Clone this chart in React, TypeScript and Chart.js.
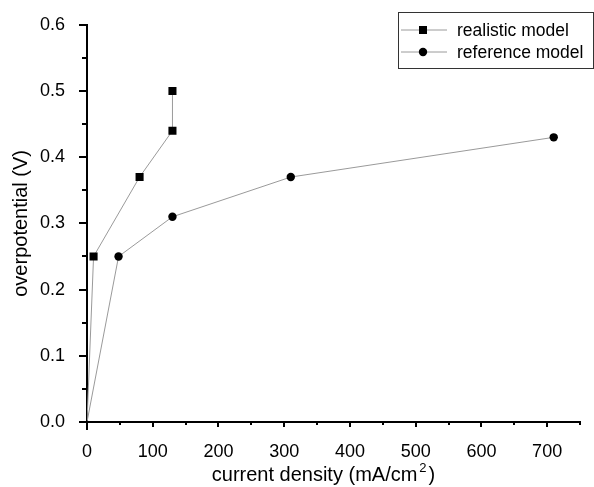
import React, { useEffect, useRef } from 'react';
import { Chart, registerables } from 'chart.js';

Chart.register(...registerables);

// ---- data ----
const seriesNames = ['realistic model', 'reference model'];
const realisticX = [0, 10, 80, 130, 130];
const realisticY = [0, 0.25, 0.37, 0.44, 0.5];
const referenceX = [0, 48, 130, 310, 710];
const referenceY = [0, 0.25, 0.31, 0.37, 0.43];
const xTickLabels = ['0', '100', '200', '300', '400', '500', '600', '700'];
const yTickLabels = ['0.0', '0.1', '0.2', '0.3', '0.4', '0.5', '0.6'];
const xTitleMain = 'current density (mA/cm';
const xTitleSup = '2';
const xTitleEnd = ')';
const yTitle = 'overpotential (V)';

const FONT = "'Liberation Sans', Arial, sans-serif";
const LINE_COLOR = '#9a9a9a';
const MARK_COLOR = '#000000';

const toPoints = (xs: number[], ys: number[]) => xs.map((x, i) => ({ x, y: ys[i] }));

const ticksPlugin = {
  id: 'customTicks',
  afterDraw(chart: any) {
    const { ctx, chartArea } = chart;
    const xs = chart.scales.x;
    const ys = chart.scales.y;
    ctx.save();
    ctx.strokeStyle = '#000';
    ctx.lineWidth = 2;
    for (let i = 0; i <= 12; i++) {
      const v = i * 0.05;
      const py = Math.round(ys.getPixelForValue(v));
      const len = i % 2 === 0 ? 8 : 5;
      ctx.beginPath();
      ctx.moveTo(chartArea.left - len, py);
      ctx.lineTo(chartArea.left, py);
      ctx.stroke();
    }
    for (let i = 0; i <= 15; i++) {
      const v = i * 50;
      const px = Math.round(xs.getPixelForValue(v));
      const len = i === 0 ? 8 : i % 2 === 0 ? 5 : 3;
      ctx.beginPath();
      ctx.moveTo(px, chartArea.bottom);
      ctx.lineTo(px, chartArea.bottom + len);
      ctx.stroke();
    }
    // x-axis title with superscript
    const cx = (chartArea.left + chartArea.right) / 2 - 10;
    const ty = chartArea.bottom + 53;
    ctx.fillStyle = '#000';
    ctx.textBaseline = 'middle';
    ctx.textAlign = 'left';
    ctx.font = `20px ${FONT}`;
    const w1 = ctx.measureText(xTitleMain).width;
    const w3 = ctx.measureText(xTitleEnd).width;
    ctx.font = `13px ${FONT}`;
    const w2 = ctx.measureText(xTitleSup).width;
    const total = w1 + 2 + w2 + 2 + w3;
    let x0 = cx - total / 2;
    ctx.font = `20px ${FONT}`;
    ctx.fillText(xTitleMain, x0, ty);
    x0 += w1 + 2;
    ctx.font = `13px ${FONT}`;
    ctx.fillText(xTitleSup, x0, ty - 7);
    x0 += w2 + 2;
    ctx.font = `20px ${FONT}`;
    ctx.fillText(xTitleEnd, x0, ty);
    ctx.restore();
  },
};

const legendPlugin = {
  id: 'customLegend',
  afterDraw(chart: any) {
    const { ctx } = chart;
    const right = chart.width - 1;
    const left = right - 195;
    const top = 12;
    const h = 56;
    ctx.save();
    ctx.strokeStyle = '#333';
    ctx.lineWidth = 1;
    ctx.strokeRect(left + 0.5, top + 0.5, right - left, h);
    const rows = [30, 52];
    chart.data.datasets.forEach((ds: any, i: number) => {
      const y = rows[i];
      ctx.strokeStyle = LINE_COLOR;
      ctx.lineWidth = 1;
      ctx.beginPath();
      ctx.moveTo(left + 3, y);
      ctx.lineTo(left + 49, y);
      ctx.stroke();
      ctx.fillStyle = MARK_COLOR;
      const cx = left + 25;
      if (ds.pointStyle === 'rect') {
        ctx.fillRect(cx - 4, y - 4, 8, 8);
      } else {
        ctx.beginPath();
        ctx.arc(cx, y, 4.2, 0, Math.PI * 2);
        ctx.fill();
      }
      ctx.fillStyle = '#000';
      ctx.font = `17.5px ${FONT}`;
      ctx.textBaseline = 'middle';
      ctx.textAlign = 'left';
      ctx.fillText(ds.label, left + 59, y + 1);
    });
    ctx.restore();
  },
};

export default function App() {
  const ref = useRef<HTMLCanvasElement | null>(null);

  useEffect(() => {
    document.body.style.margin = '0';
    const canvas = ref.current;
    if (!canvas) return;
    const chart = new Chart(canvas, {
      type: 'line',
      data: {
        datasets: [
          {
            label: seriesNames[0],
            data: toPoints(realisticX, realisticY),
            borderColor: LINE_COLOR,
            borderWidth: 1,
            backgroundColor: MARK_COLOR,
            pointBackgroundColor: MARK_COLOR,
            pointBorderColor: MARK_COLOR,
            pointBorderWidth: 0,
            pointStyle: 'rect',
            pointRadius: (c: any) => (c.dataIndex === 0 ? 1.6 : 5.7),
            tension: 0,
            fill: false,
          },
          {
            label: seriesNames[1],
            data: toPoints(referenceX, referenceY),
            borderColor: LINE_COLOR,
            borderWidth: 1,
            backgroundColor: MARK_COLOR,
            pointBackgroundColor: MARK_COLOR,
            pointBorderColor: MARK_COLOR,
            pointBorderWidth: 0,
            pointStyle: 'circle',
            pointRadius: (c: any) => (c.dataIndex === 0 ? 1.2 : 4.2),
            tension: 0,
            fill: false,
          },
        ],
      },
      options: {
        responsive: false,
        animation: false,
        devicePixelRatio: 1,
        layout: { padding: { top: 20, right: 14, left: 0, bottom: 0 } },
        plugins: {
          legend: { display: false },
          tooltip: { enabled: false },
        },
        scales: {
          x: {
            type: 'linear',
            min: 0,
            max: 750,
            afterFit: (s: any) => {
              s.height = 65;
            },
            ticks: {
              stepSize: 50,
              autoSkip: false,
              maxRotation: 0,
              padding: 11,
              color: '#000',
              font: { family: FONT, size: 18 },
              callback: (v: any) => {
                const n = Math.round(Number(v));
                return n % 100 === 0 ? xTickLabels[n / 100] ?? '' : '';
              },
            },
            grid: { display: false },
            border: { display: true, color: '#000', width: 2 },
            title: { display: false },
          },
          y: {
            type: 'linear',
            min: 0,
            max: 0.6,
            afterFit: (s: any) => {
              s.width = 87;
            },
            ticks: {
              stepSize: 0.05,
              autoSkip: false,
              padding: 14,
              color: '#000',
              font: { family: FONT, size: 18 },
              callback: (v: any) => {
                const n = Math.round(Number(v) * 100);
                return n % 10 === 0 ? yTickLabels[n / 10] ?? '' : '';
              },
            },
            grid: { display: false },
            border: { display: true, color: '#000', width: 2 },
            title: {
              display: true,
              text: yTitle,
              color: '#000',
              font: { family: FONT, size: 20 },
              padding: { top: 9, bottom: 0 },
            },
          },
        },
      },
      plugins: [ticksPlugin, legendPlugin],
    } as any);
    return () => chart.destroy();
  }, []);

  return (
    <div style={{ position: 'fixed', left: 0, top: 0, width: 594, height: 487 }}>
      <canvas ref={ref} width={594} height={487} />
    </div>
  );
}
